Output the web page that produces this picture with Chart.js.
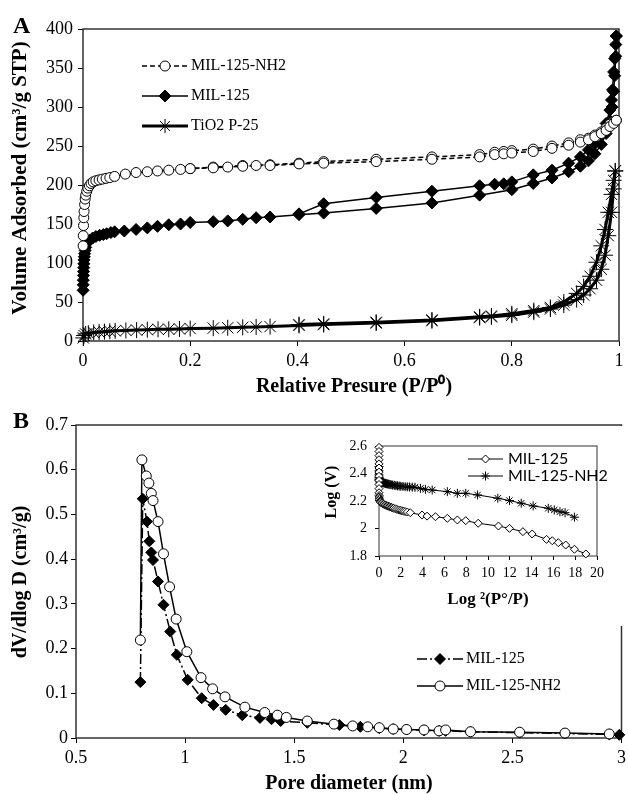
<!DOCTYPE html>
<html lang="en">
<head>
<meta charset="UTF-8">
<title>N2 isotherms and pore size distribution</title>
<style>
  body { margin: 0; background: #fff; }
  .wrap { position: relative; width: 628px; height: 794px; overflow: hidden; }
  canvas { position: absolute; }
  .panel { position: absolute; font: bold 24px "Liberation Serif", "Times New Roman", serif; line-height: 1; }
</style>
</head>
<body>
<div class="wrap">
  <canvas id="isoChart" width="628" height="400" style="left:0;top:0;width:628px;height:400px"></canvas>
  <canvas id="poreChart" width="628" height="394" style="left:0;top:400px;width:628px;height:394px"></canvas>
  <canvas id="drChart" width="302" height="200" style="left:322px;top:426px;width:302px;height:200px"></canvas>
  <div class="panel" style="left:13px;top:13px">A</div>
  <div class="panel" style="left:13px;top:408px">B</div>
</div>

<script src="https://cdn.jsdelivr.net/npm/chart.js@4.4.1/dist/chart.umd.min.js"></script>
<script>
// ---- Panel A: N2 adsorption / desorption (P/P0 vs cm3/g STP) ----
const nh2AdsP = [0.0002, 0.0005, 0.001, 0.0015, 0.002, 0.003, 0.004, 0.005, 0.007, 0.009, 0.012, 0.015, 0.019, 0.024, 0.03, 0.036, 0.043, 0.05,
  0.059, 0.079, 0.099, 0.12, 0.139, 0.16, 0.182, 0.2, 0.243, 0.27, 0.298, 0.323, 0.349, 0.403, 0.449, 0.547, 0.651, 0.74, 0.768, 0.785, 0.8,
  0.84, 0.875, 0.906, 0.928, 0.943, 0.955, 0.967, 0.976, 0.983, 0.99, 0.995];
const nh2AdsV = [122, 135, 148, 158, 166, 175, 182, 187, 192, 196, 199, 202, 204, 205.5, 206.5, 207.5, 208.5, 209.5,
  211, 214, 216, 217, 218, 219, 220, 221, 222, 223, 224, 225, 225, 227, 228, 230, 233, 236, 239, 240, 241,
  243, 247, 251, 255, 258, 262, 266, 270, 275, 279, 283];
const nh2DesP = [0.995, 0.99, 0.983, 0.976, 0.967, 0.955, 0.943, 0.928, 0.906, 0.875, 0.84, 0.8, 0.785, 0.768, 0.74, 0.651, 0.547, 0.449, 0.403, 0.349, 0.298, 0.243, 0.2];
const nh2DesV = [283, 281, 278, 273, 268, 264, 260, 258, 254, 250, 246, 244, 243, 242, 239, 236, 233, 230, 228, 226, 225, 223, 221];

const milAdsP = [0.0002, 0.0004, 0.0006, 0.0008, 0.001, 0.0013, 0.0016, 0.002, 0.0025, 0.003, 0.004, 0.005, 0.007, 0.012, 0.018, 0.024, 0.031, 0.038, 0.044, 0.052,
  0.059, 0.077, 0.099, 0.12, 0.139, 0.16, 0.182, 0.2, 0.243, 0.27, 0.298, 0.323, 0.349, 0.403, 0.449, 0.547, 0.651, 0.74, 0.8,
  0.84, 0.875, 0.906, 0.928, 0.943, 0.955, 0.967, 0.976, 0.983, 0.987, 0.99, 0.992, 0.994, 0.995];
const milAdsV = [65, 72, 78, 84, 89, 94, 99, 104, 108, 112, 116, 120, 125, 129, 132, 134, 135.5, 136.5, 137.5, 139,
  140, 141, 143, 145, 147, 149, 150, 152, 153, 154, 156, 158, 159, 162, 164, 170, 177, 187, 194,
  202, 209, 217, 224, 231, 240, 252, 266, 282, 300, 320, 340, 365, 391];
const milDesP = [0.995, 0.994, 0.992, 0.99, 0.988, 0.986, 0.983, 0.976, 0.967, 0.955, 0.943, 0.928, 0.906, 0.875, 0.84, 0.8, 0.785, 0.768, 0.74, 0.651, 0.547, 0.449, 0.403];
const milDesV = [391, 380, 362, 345, 322, 309, 296, 279, 266, 253, 245, 236, 228, 219, 213, 204, 201.5, 201, 199, 192, 184, 176, 163];

const tioAdsP = [0.0005, 0.002, 0.005, 0.01, 0.02, 0.03, 0.04, 0.05, 0.06, 0.08, 0.1, 0.12, 0.14, 0.16, 0.18, 0.2, 0.243, 0.27, 0.298, 0.323, 0.349,
  0.403, 0.449, 0.547, 0.651, 0.74, 0.762, 0.8, 0.841, 0.872, 0.897, 0.921, 0.934, 0.946, 0.958, 0.967, 0.974, 0.98, 0.986, 0.99, 0.993];
const tioAdsV = [4, 7, 9, 10, 11, 11.5, 12, 12.5, 13, 13.5, 14, 14.5, 15, 15, 15.5, 16, 16.5, 17, 17.5, 18, 18.5,
  20, 21, 23, 26, 30, 31, 33, 37, 41, 46, 53, 59, 67, 78, 92, 110, 135, 165, 195, 218];
const tioDesP = [0.993, 0.99, 0.986, 0.98, 0.974, 0.967, 0.958, 0.946, 0.934, 0.921, 0.897, 0.872, 0.841, 0.8, 0.762, 0.74, 0.651, 0.547, 0.449, 0.403];
const tioDesV = [218, 206, 188, 165, 143, 122, 101, 83, 70, 61, 50, 43, 39, 35, 32, 31, 27, 24, 22, 21];

const isoXTicks = [0, 0.2, 0.4, 0.6, 0.8, 1];
const isoYTicks = [0, 50, 100, 150, 200, 250, 300, 350, 400];

// ---- Panel B: pore size distribution (nm vs cm3/g) ----
const pore125 = [0.795, 0.806, 0.825, 0.836, 0.845, 0.853, 0.876, 0.901, 0.932, 0.962, 1.012, 1.076, 1.13, 1.186, 1.262, 1.343, 1.396, 1.438,
  1.56, 1.707, 1.803, 1.89, 1.954, 2.015, 2.095, 2.164, 2.194, 2.308, 2.533, 2.741, 2.944, 2.99];
const dv125 = [0.125, 0.535, 0.484, 0.44, 0.415, 0.398, 0.35, 0.298, 0.238, 0.186, 0.13, 0.089, 0.074, 0.063, 0.051, 0.045, 0.042, 0.038,
  0.034, 0.029, 0.025, 0.022, 0.02, 0.019, 0.017, 0.016, 0.016, 0.014, 0.012, 0.01, 0.008, 0.007];
const poreNH2 = [0.795, 0.802, 0.822, 0.834, 0.845, 0.853, 0.876, 0.901, 0.929, 0.959, 1.008, 1.073, 1.126, 1.183, 1.274, 1.365, 1.423, 1.464,
  1.56, 1.682, 1.768, 1.837, 1.89, 1.954, 2.015, 2.095, 2.164, 2.194, 2.308, 2.533, 2.741, 2.944];
const dvNH2 = [0.219, 0.622, 0.586, 0.57, 0.547, 0.531, 0.484, 0.412, 0.338, 0.266, 0.193, 0.135, 0.11, 0.092, 0.069, 0.057, 0.051, 0.046,
  0.038, 0.031, 0.027, 0.025, 0.023, 0.02, 0.019, 0.018, 0.016, 0.018, 0.014, 0.013, 0.011, 0.009];
const poreXTicks = [0.5, 1, 1.5, 2, 2.5, 3];
const poreYTicks = [0, 0.1, 0.2, 0.3, 0.4, 0.5, 0.6, 0.7];

// ---- Inset: DR plot, log2(P0/P) vs log(V) ----
const drX125 = [0, 0, 0, 0, 0, 0, 0, 0, 0, 0, 0, 0, 0.01, 0.02, 0.03, 0.05, 0.08, 0.12, 0.18, 0.25, 0.35, 0.45, 0.55, 0.65, 0.75, 0.85, 0.95,
  1.05, 1.15, 1.25, 1.35, 1.5, 1.65, 1.8, 1.95, 2.1, 2.25, 2.4, 2.6,
  2.87, 3.95, 4.41, 5.18, 6.27, 7.19, 7.96, 9.1, 10.96, 11.97, 13.2, 14.05, 15.37, 15.9, 16.45, 17.13, 17.93, 18.98];
const drY125 = [2.59, 2.56, 2.53, 2.5, 2.47, 2.44, 2.41, 2.38, 2.35, 2.32, 2.29, 2.26, 2.24, 2.23, 2.22, 2.21, 2.2, 2.195, 2.19, 2.185, 2.18, 2.176, 2.172, 2.168, 2.165, 2.162, 2.159,
  2.156, 2.153, 2.15, 2.147, 2.143, 2.139, 2.135, 2.132, 2.129, 2.126, 2.123, 2.12,
  2.115, 2.098, 2.09, 2.086, 2.074, 2.062, 2.057, 2.038, 2.018, 2.001, 1.977, 1.96, 1.921, 1.911, 1.897, 1.88, 1.849, 1.815];
const drXNH2 = [0, 0, 0, 0, 0, 0.01, 0.02, 0.04, 0.07, 0.1, 0.15, 0.2, 0.25, 0.3, 0.4, 0.5, 0.6, 0.7, 0.8, 0.9, 1.0, 1.1, 1.25, 1.4, 1.55, 1.7, 1.85,
  2.0, 2.2, 2.4, 2.6, 2.8, 3.05, 3.3,
  3.8, 4.26, 4.88, 6.27, 7.19, 7.96, 9.04, 10.9, 11.97, 13.05, 14.14, 15.53, 16.08, 16.6, 17.07, 17.93];
const drYNH2 = [2.45, 2.42, 2.39, 2.37, 2.36, 2.355, 2.35, 2.347, 2.345, 2.342, 2.34, 2.338, 2.336, 2.334, 2.332, 2.33, 2.328, 2.326, 2.324, 2.322, 2.32, 2.318, 2.316, 2.314, 2.312, 2.31, 2.309,
  2.307, 2.306, 2.304, 2.303, 2.302, 2.301, 2.3,
  2.292, 2.285, 2.28, 2.268, 2.256, 2.256, 2.244, 2.22, 2.203, 2.184, 2.164, 2.147, 2.135, 2.122, 2.115, 2.082];
const drXTicks = [0, 2, 4, 6, 8, 10, 12, 14, 16, 18, 20];
const drYTicks = [1.8, 2, 2.2, 2.4, 2.6];

const SERIF = "'Liberation Serif', 'Times New Roman', serif";
const pts = (xs, ys) => xs.map((x, i) => ({ x: x, y: ys[i] }));

// frame round the plot area (+ optional white background)
const framePlugin = {
  id: 'frame',
  beforeDraw(chart, args, opts) {
    if (opts.bg) {
      chart.ctx.save();
      chart.ctx.fillStyle = '#fff';
      chart.ctx.fillRect(0, 0, chart.width, chart.height);
      chart.ctx.restore();
    }
  },
  beforeDatasetsDraw(chart, args, opts) {
    const a = chart.chartArea, ctx = chart.ctx;
    ctx.save();
    ctx.strokeStyle = opts.color || '#222';
    ctx.lineWidth = opts.width || 1.5;
    ctx.strokeRect(a.left, a.top, a.right - a.left, a.bottom - a.top);
    ctx.restore();
  }
};

function marker(ctx, style, x, y, r, fill) {
  ctx.beginPath();
  if (style === 'circle') {
    ctx.arc(x, y, r, 0, Math.PI * 2);
  } else if (style === 'rectRot') {
    ctx.moveTo(x, y - r); ctx.lineTo(x + r, y); ctx.lineTo(x, y + r); ctx.lineTo(x - r, y); ctx.closePath();
  } else {
    for (let k = 0; k < 4; k++) {
      const t = k * Math.PI / 4;
      ctx.moveTo(x - r * Math.cos(t), y - r * Math.sin(t));
      ctx.lineTo(x + r * Math.cos(t), y + r * Math.sin(t));
    }
  }
  if (style !== 'star') { ctx.fillStyle = fill; ctx.fill(); }
  ctx.stroke();
}

// legend drawn inside the plot, line sample with the marker on it
const keyPlugin = {
  id: 'key',
  afterDraw(chart, args, opts) {
    const ctx = chart.ctx;
    (opts.items || []).forEach(it => {
      ctx.save();
      ctx.strokeStyle = '#000';
      ctx.lineWidth = it.lw;
      ctx.setLineDash(it.dash || []);
      ctx.beginPath();
      ctx.moveTo(it.x, it.y);
      ctx.lineTo(it.x + opts.len, it.y);
      ctx.stroke();
      ctx.setLineDash([]);
      ctx.lineWidth = 1;
      marker(ctx, it.style, it.x + opts.len / 2, it.y, it.r, it.fill);
      ctx.fillStyle = '#000';
      ctx.font = opts.font;
      ctx.textBaseline = 'middle';
      ctx.fillText(it.text, it.x + opts.len + opts.gap, it.y);
      ctx.restore();
    });
  }
};

// axis titles, placed where the original figure has them
const titlePlugin = {
  id: 'titles',
  afterDraw(chart, args, opts) {
    const ctx = chart.ctx;
    (opts.items || []).forEach(t => {
      ctx.save();
      ctx.translate(t.x, t.y);
      if (t.rot) ctx.rotate(-Math.PI / 2);
      ctx.font = 'bold ' + t.size + 'px ' + SERIF;
      ctx.textAlign = 'center';
      ctx.textBaseline = 'middle';
      ctx.fillStyle = '#000';
      ctx.fillText(t.text, 0, 0);
      ctx.restore();
    });
  }
};

function fixY(w) { return s => { s.width = w; s.paddingTop = 0; s.paddingBottom = 0; }; }
function fixX(h) { return s => { s.height = h; s.paddingLeft = 0; s.paddingRight = 0; }; }
function setTicks(list) { return s => { s.ticks = list.map(v => ({ value: v })); }; }

function axis(o) {
  return {
    type: 'linear',
    min: o.min, max: o.max,
    afterBuildTicks: setTicks(o.ticks),
    afterFit: o.x ? fixX(o.size) : fixY(o.size),
    border: { display: false },
    grid: { drawOnChartArea: false, drawTicks: true, tickLength: o.tl, color: '#000', lineWidth: 1 },
    ticks: {
      autoSkip: false, maxRotation: 0, padding: o.pad, color: '#000',
      font: { family: SERIF, size: o.fs },
      callback: v => String(+v.toFixed(2))
    },
    title: { display: false }
  };
}

function series(data, o) {
  return Object.assign({
    data: data, showLine: true, clip: false, tension: 0,
    borderColor: '#000', pointBorderColor: '#000', pointBorderWidth: 1,
    pointHoverRadius: 0
  }, o);
}

Chart.defaults.animation = false;
Chart.defaults.devicePixelRatio = 1;

// Panel A
new Chart(document.getElementById('isoChart'), {
  type: 'scatter',
  data: {
    datasets: [
      series(pts(nh2AdsP, nh2AdsV), { borderWidth: 1.5, borderDash: [5, 3], pointStyle: 'circle', pointRadius: 5, pointBackgroundColor: '#fff', order: 1 }),
      series(pts(nh2DesP, nh2DesV), { borderWidth: 1.5, borderDash: [5, 3], pointStyle: 'circle', pointRadius: 5, pointBackgroundColor: '#fff', order: 1 }),
      series(pts(milAdsP, milAdsV), { borderWidth: 1.5, pointStyle: 'rectRot', pointRadius: 6, pointBackgroundColor: '#000', order: 2 }),
      series(pts(milDesP, milDesV), { borderWidth: 1.5, pointStyle: 'rectRot', pointRadius: 6, pointBackgroundColor: '#000', order: 2 }),
      series(pts(tioAdsP, tioAdsV), { borderWidth: 3, pointStyle: 'star', pointRadius: 8, pointBackgroundColor: '#000', order: 3 }),
      series(pts(tioDesP, tioDesV), { borderWidth: 3, pointStyle: 'star', pointRadius: 8, pointBackgroundColor: '#000', order: 3 })
    ]
  },
  options: {
    responsive: false,
    layout: { padding: { left: 0, top: 29, right: 2, bottom: 0 } },
    scales: {
      x: axis({ x: true, min: 0, max: 1, ticks: isoXTicks, size: 59, tl: 5, pad: 4, fs: 18 }),
      y: axis({ min: 0, max: 400, ticks: isoYTicks, size: 83, tl: 5, pad: 5, fs: 18 })
    },
    plugins: {
      legend: { display: false },
      tooltip: { enabled: false },
      frame: { color: '#333', width: 1.5 },
      titles: {
        items: [
          { text: 'Relative Presure (P/P\u2070)', x: 354, y: 387, size: 20 },
          { text: 'Volume Adsorbed (cm\u00b3/g STP)', x: 21, y: 178, size: 21, rot: true }
        ]
      },
      key: {
        len: 46, gap: 3, font: '16px ' + SERIF,
        items: [
          { x: 142, y: 66, lw: 1.5, dash: [5, 3], style: 'circle', r: 5, fill: '#fff', text: 'MIL-125-NH2' },
          { x: 142, y: 96, lw: 1.5, style: 'rectRot', r: 6, fill: '#000', text: 'MIL-125' },
          { x: 142, y: 126, lw: 3, style: 'star', r: 7, fill: '#000', text: 'TiO2 P-25' }
        ]
      }
    }
  },
  plugins: [framePlugin, keyPlugin, titlePlugin]
});

// Panel B
new Chart(document.getElementById('poreChart'), {
  type: 'scatter',
  data: {
    datasets: [
      series(pts(poreNH2, dvNH2), { borderWidth: 1.5, pointStyle: 'circle', pointRadius: 5, pointBackgroundColor: '#fff', order: 1 }),
      series(pts(pore125, dv125), { borderWidth: 1.5, borderDash: [10, 3, 2, 3], pointStyle: 'rectRot', pointRadius: 5.5, pointBackgroundColor: '#000', order: 2 })
    ]
  },
  options: {
    responsive: false,
    layout: { padding: { left: 0, top: 25, right: 3, bottom: 0 } },
    scales: {
      x: axis({ x: true, min: 0.5, max: 3, ticks: poreXTicks, size: 56, tl: 5, pad: 4, fs: 18 }),
      y: axis({ min: 0, max: 0.7, ticks: poreYTicks, size: 76, tl: 5, pad: 3, fs: 18 })
    },
    plugins: {
      legend: { display: false },
      tooltip: { enabled: false },
      frame: { color: '#333', width: 1.5 },
      titles: {
        items: [
          { text: 'Pore diameter (nm)', x: 349, y: 384, size: 20 },
          { text: 'dV/dlog D (cm\u00b3/g)', x: 21, y: 182, size: 20, rot: true }
        ]
      },
      key: {
        len: 46, gap: 3, font: '16px ' + SERIF,
        items: [
          { x: 417, y: 259, lw: 1.5, dash: [10, 3, 2, 3], style: 'rectRot', r: 5.5, fill: '#000', text: 'MIL-125' },
          { x: 417, y: 286, lw: 1.5, style: 'circle', r: 5, fill: '#fff', text: 'MIL-125-NH2' }
        ]
      }
    }
  },
  plugins: [framePlugin, keyPlugin, titlePlugin]
});

// Inset
new Chart(document.getElementById('drChart'), {
  type: 'scatter',
  data: {
    datasets: [
      series(pts(drX125, drY125), { borderWidth: 1, pointStyle: 'rectRot', pointRadius: 4, pointBackgroundColor: '#fff', order: 1 }),
      series(pts(drXNH2, drYNH2), { borderWidth: 1, pointStyle: 'star', pointRadius: 4.5, pointBackgroundColor: '#000', order: 2 })
    ]
  },
  options: {
    responsive: false,
    layout: { padding: { left: 0, top: 20, right: 27, bottom: 0 } },
    scales: {
      x: axis({ x: true, min: 0, max: 20, ticks: drXTicks, size: 70, tl: 4, pad: 5, fs: 14 }),
      y: axis({ min: 1.8, max: 2.6, ticks: drYTicks, size: 57, tl: 4, pad: 8, fs: 14 })
    },
    plugins: {
      legend: { display: false },
      tooltip: { enabled: false },
      frame: { color: '#333', width: 1, bg: true },
      titles: {
        items: [
          { text: 'Log \u00b2(P\u00b0/P)', x: 166, y: 174, size: 17 },
          { text: 'Log (V)', x: 10, y: 66, size: 16, rot: true }
        ]
      },
      key: {
        len: 35, gap: 5, font: "16px Lato, 'Liberation Sans', sans-serif",
        items: [
          { x: 146, y: 33, lw: 1, style: 'rectRot', r: 4, fill: '#fff', text: 'MIL-125' },
          { x: 146, y: 50, lw: 1, style: 'star', r: 4.5, fill: '#000', text: 'MIL-125-NH2' }
        ]
      }
    }
  },
  plugins: [framePlugin, keyPlugin, titlePlugin]
});
</script>
</body>
</html>
